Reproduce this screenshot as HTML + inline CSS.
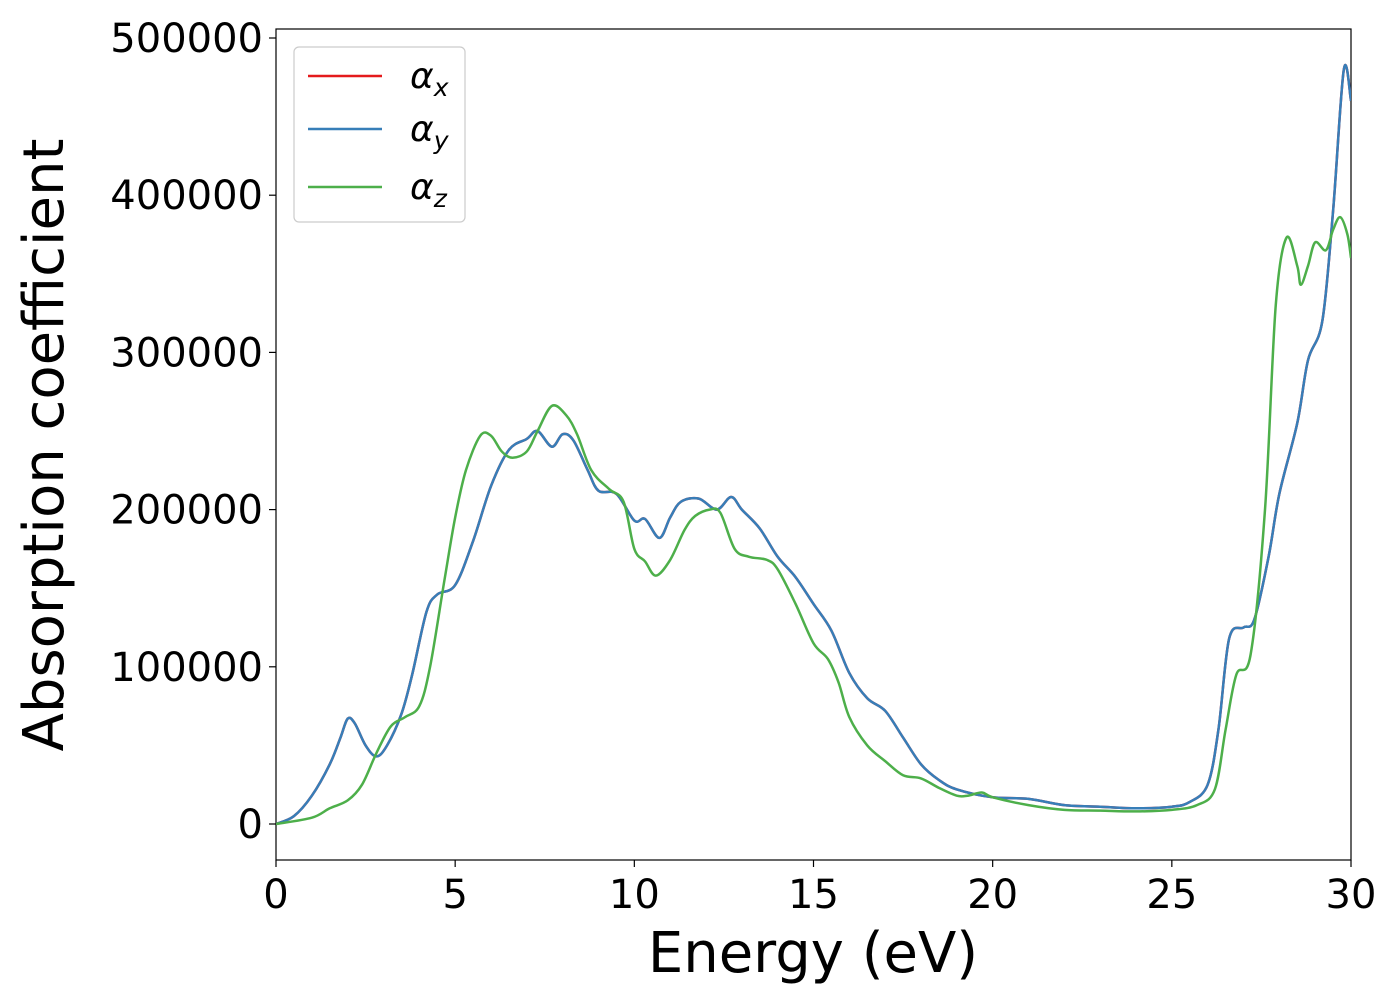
<!DOCTYPE html>
<html><head><meta charset="utf-8"><style>
html,body{margin:0;padding:0;background:#fff;}
svg{display:block;font-family:"DejaVu Sans","Liberation Sans",sans-serif;}
</style></head><body>
<svg id="chart" width="1400" height="1000" viewBox="0 0 1400 1000">
<rect x="276" y="29" width="1075" height="831" fill="#fff" stroke="#000" stroke-width="1.2"/>
<g id="series"></g>
<g id="xticks"></g>
<g id="yticks"></g>
<text x="813" y="972" font-size="56" text-anchor="middle">Energy (eV)</text>
<text transform="translate(63,445) rotate(-90)" font-size="56" text-anchor="middle">Absorption coefficient</text>
<g>
<rect x="294" y="47" width="171" height="175" rx="5" fill="#fff" stroke="#ccc" stroke-width="1.2"/>
<line x1="308" y1="76" x2="382" y2="76" stroke="#e41a1c" stroke-width="2.5"/>
<text x="410" y="88" font-size="36" font-style="italic">α<tspan font-size="25" dy="8">x</tspan></text>
<line x1="308" y1="129" x2="382" y2="129" stroke="#377eb8" stroke-width="2.5"/>
<text x="410" y="141" font-size="36" font-style="italic">α<tspan font-size="25" dy="8">y</tspan></text>
<line x1="308" y1="187" x2="382" y2="187" stroke="#4daf4a" stroke-width="2.5"/>
<text x="410" y="199" font-size="36" font-style="italic">α<tspan font-size="25" dy="8">z</tspan></text>
</g>
</svg>
<script>
const xyEnergy=[0,0.5,1,1.5,1.8,2,2.2,2.5,2.8,3.1,3.5,3.8,4.2,4.5,5,5.5,6,6.5,7,7.3,7.7,8,8.3,8.7,9,9.5,10,10.3,10.7,11,11.3,11.8,12.3,12.7,13,13.5,14,14.5,15,15.5,16,16.5,17,17.5,18,18.5,19,20,21,22,23,24,25,25.5,26,26.3,26.6,27,27.3,27.7,28,28.5,28.8,29.2,29.5,29.8,30];
const xyAlpha=[0,5000,18000,38000,55000,67000,64000,50000,43000,50000,70000,95000,135000,146000,152000,180000,215000,238000,245000,250000,240000,248000,244000,225000,212000,210000,193000,194000,182000,195000,205000,207000,200000,208000,200000,188000,170000,157000,140000,123000,96000,80000,72000,55000,38000,28000,22000,17000,16000,12000,11000,10000,11000,14000,25000,60000,118000,125000,130000,170000,210000,255000,295000,320000,390000,480000,460000];
const zEnergy=[0,1,1.5,2,2.4,2.8,3.2,3.6,4,4.3,4.7,5,5.3,5.7,6,6.3,6.6,7,7.3,7.7,8.1,8.4,8.8,9.3,9.7,10,10.3,10.6,11,11.4,11.7,12.1,12.4,12.8,13.2,13.7,14,14.5,15,15.4,15.7,16,16.5,17,17.5,18,18.5,19,19.3,19.7,20,21,22,23,24,25,25.7,26.2,26.5,26.8,27.2,27.6,27.9,28.2,28.5,28.6,28.8,29,29.3,29.5,29.7,29.9,30];
const zAlpha=[0,4000,10000,15000,25000,45000,62000,68000,75000,100000,155000,195000,225000,247000,247000,237000,233000,237000,250000,266000,260000,248000,225000,213000,205000,175000,167000,158000,168000,187000,196000,200000,198000,175000,170000,168000,162000,140000,115000,105000,90000,68000,50000,40000,31000,29000,23000,18000,18000,20000,17000,12000,9000,8500,8000,9000,12000,22000,60000,95000,108000,200000,330000,373000,355000,343000,355000,370000,365000,378000,386000,375000,360000];
const xTickVals=[0,5,10,15,20,25,30];
const yTickVals=[0,100000,200000,300000,400000,500000];

const NS="http://www.w3.org/2000/svg";
function sx(v){return 276+v*(1075/30);}
function sy(v){return 824-v*(786/500000);}
function pathFor(xs,ys){
  const p=xs.map((x,i)=>[sx(x),sy(ys[i])]);
  let d="M"+p[0][0]+","+p[0][1];
  for(let i=0;i<p.length-1;i++){
    const p0=p[Math.max(0,i-1)],p1=p[i],p2=p[i+1],p3=p[Math.min(p.length-1,i+2)];
    const c1=[p1[0]+(p2[0]-p0[0])/6,p1[1]+(p2[1]-p0[1])/6];
    const c2=[p2[0]-(p3[0]-p1[0])/6,p2[1]-(p3[1]-p1[1])/6];
    d+=" C"+c1[0]+","+c1[1]+" "+c2[0]+","+c2[1]+" "+p2[0]+","+p2[1];
  }
  return d;
}
const g=document.getElementById("series");
function addLine(xs,ys,color,name){
  const el=document.createElementNS(NS,"path");
  el.setAttribute("d",pathFor(xs,ys));
  el.setAttribute("fill","none");
  el.setAttribute("stroke",color);
  el.setAttribute("stroke-width","2.5");
  el.setAttribute("stroke-linejoin","round");
  el.setAttribute("clip-path","url(#clip)");
  
  
  g.appendChild(el);
}
const defs=document.createElementNS(NS,"defs");
defs.innerHTML='<clipPath id="clip"><rect x="276" y="29" width="1075" height="831"/></clipPath>';
document.getElementById("chart").prepend(defs);
addLine(xyEnergy,xyAlpha,"#e41a1c","series-alpha-x");
addLine(xyEnergy,xyAlpha,"#377eb8","series-alpha-y");
addLine(zEnergy,zAlpha,"#4daf4a","series-alpha-z");
const xg=document.getElementById("xticks");
xTickVals.forEach(v=>{
  const t=document.createElementNS(NS,"line");
  t.setAttribute("x1",sx(v));t.setAttribute("x2",sx(v));
  t.setAttribute("y1",860);t.setAttribute("y2",867);
  t.setAttribute("stroke","#000");t.setAttribute("stroke-width","1.2");
  
  
  xg.appendChild(t);
  const l=document.createElementNS(NS,"text");
  l.setAttribute("x",sx(v));l.setAttribute("y",908);
  l.setAttribute("font-size","40");l.setAttribute("text-anchor","middle");
  l.textContent=v;
  
  
  xg.appendChild(l);
});
const yg=document.getElementById("yticks");
yTickVals.forEach(v=>{
  const t=document.createElementNS(NS,"line");
  t.setAttribute("x1",269);t.setAttribute("x2",276);
  t.setAttribute("y1",sy(v));t.setAttribute("y2",sy(v));
  t.setAttribute("stroke","#000");t.setAttribute("stroke-width","1.2");
  
  
  yg.appendChild(t);
  const l=document.createElementNS(NS,"text");
  l.setAttribute("x",263);l.setAttribute("y",sy(v)+14);
  l.setAttribute("font-size","40");l.setAttribute("text-anchor","end");
  l.textContent=v;
  
  
  yg.appendChild(l);
});
</script>
</body></html>
